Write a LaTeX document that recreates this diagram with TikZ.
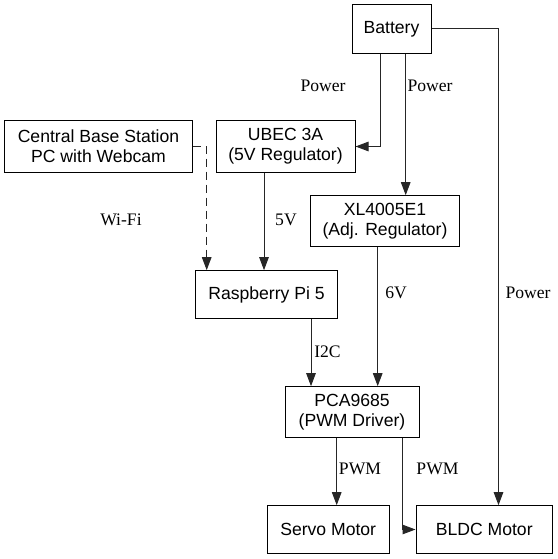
\documentclass[tikz,border=0pt]{standalone}
\usepackage{fontspec}
\setmainfont{Liberation Serif}
\newfontfamily\boxfont{Liberation Sans}
\usetikzlibrary{arrows.meta}
\tikzset{
  blk/.style={draw=black, line width=1pt, inner sep=0pt, align=center,
    font=\boxfont\fontsize{17.6}{20}\selectfont},
  lbl/.style={inner sep=0pt, font=\fontsize{17.6}{20}\selectfont},
  conn/.style={draw=black!85, line width=1pt, -{Triangle[length=13pt,width=9.5pt]}},
}
\begin{document}
\begin{tikzpicture}[x=1pt,y=-1pt]
\useasboundingbox (0,0) rectangle (557,559);
\node[blk, minimum width=79pt, minimum height=48.5pt] (bat) at (391.5,29) {Battery};
\node[blk, minimum width=139pt, minimum height=51pt] (ubec) at (285.5,146.5) {UBEC 3A\\(5V Regulator)};
\node[blk, minimum width=187.5pt, minimum height=51pt] (cbs) at (98.5,146.5) {Central Base Station\\PC with Webcam};
\node[blk, minimum width=148.6pt, minimum height=51pt] (xl) at (385,221.2) {XL4005E1\\(Adj. Regulator)};
\node[blk, minimum width=141.6pt, minimum height=47.6pt] (pi) at (266.5,294.5) {Raspberry Pi 5};
\node[blk, minimum width=134pt, minimum height=50.6pt] (pca) at (352,412) {PCA9685\\(PWM Driver)};
\node[blk, minimum width=121.7pt, minimum height=47.6pt] (servo) at (328.2,529.5) {Servo Motor};
\node[blk, minimum width=136.5pt, minimum height=47.6pt] (bldc) at (484.25,529.5) {BLDC Motor};

\coordinate (c1) at (380,0);
\coordinate (c2) at (405.7,0);
\coordinate (c3) at (498.5,0);
\coordinate (c4) at (206.7,0);
\coordinate (c5) at (264,0);
\coordinate (c6) at (311,0);
\coordinate (c7) at (377.7,0);
\coordinate (c8) at (336.7,0);
\coordinate (c9) at (402.3,0);

\draw[conn] (bat.south -| c1) |- (ubec.east);
\draw[conn] (bat.south -| c2) -- (xl.north -| c2);
\draw[conn] (bat.east) -| (bldc.north -| c3);
\draw[conn, dash pattern=on 8pt off 5pt] (cbs.east) -| (pi.north -| c4);
\draw[conn] (ubec.south -| c5) -- (pi.north -| c5);
\draw[conn] (pi.south -| c6) -- (pca.north -| c6);
\draw[conn] (xl.south -| c7) -- (pca.north -| c7);
\draw[conn] (pca.south -| c8) -- (servo.north -| c8);
\draw[conn] (pca.south -| c9) |- (bldc.west);

\node[lbl] (l1) at (323,86) {Power};
\node[lbl] (l2) at (430,86) {Power};
\node[lbl] (l3) at (121,220) {Wi-Fi};
\node[lbl] (l4) at (286,220) {5V};
\node[lbl] (l5) at (396,293) {6V};
\node[lbl] (l6) at (528,293) {Power};
\node[lbl] (l7) at (327.5,352) {I2C};
\node[lbl] (l8) at (360,469) {PWM};
\node[lbl] (l9) at (437.5,469) {PWM};
\end{tikzpicture}
\end{document}
